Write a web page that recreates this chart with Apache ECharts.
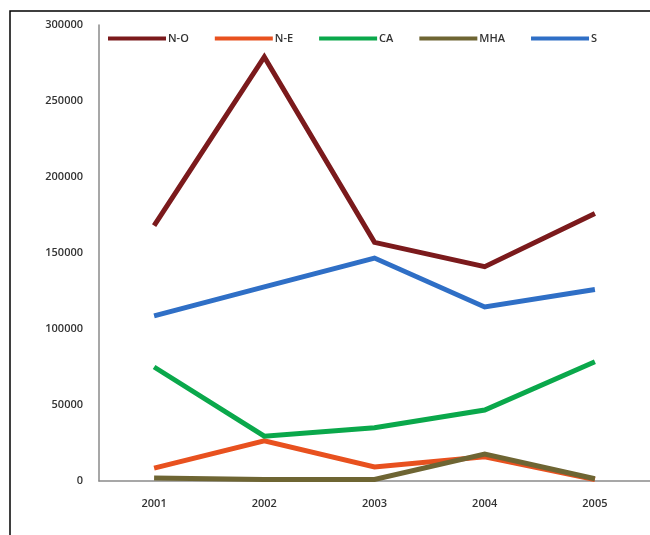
<!DOCTYPE html>
<html>
<head>
<meta charset="utf-8">
<script src="https://cdn.jsdelivr.net/npm/echarts@6/dist/echarts.min.js"></script>
<style>html,body{margin:0;padding:0;background:#fff;overflow:hidden;width:650px;height:535px;}#c{width:650px;height:535px;}</style>
</head>
<body>
<div id="c"></div>
<script>
const categories = ['2001', '2002', '2003', '2004', '2005'];
const seriesNames = ['N-O', 'N-E', 'CA', 'MHA', 'S'];
const valuesNO = [168000, 279000, 157000, 141000, 176000];
const valuesNE = [8500, 26500, 9200, 16000, 1000];
const valuesCA = [75000, 29500, 35000, 46700, 78500];
const valuesMHA = [2000, 1000, 1000, 17800, 1500];
const valuesS = [108600, 127700, 146700, 114500, 126000];
const colors = ['#7b1a1c', '#e8511f', '#0aa84b', '#6e6533', '#2f6fc6'];
const yTicks = [0, 50000, 100000, 150000, 200000, 250000, 300000];

const allValues = [valuesNO, valuesNE, valuesCA, valuesMHA, valuesS];
const chart = echarts.init(document.getElementById('c'), null, {renderer: 'canvas', width: 650, height: 535});
chart.setOption({
  animation: false,
  backgroundColor: '#fff',
  graphic: [{
    type: 'polyline', shape: {points: [[10, 540], [10, 11], [660, 11]]},
    style: {fill: 'none', stroke: '#000', lineWidth: 1.5}, silent: true
  }],
  legend: {
    left: 103, top: 28, itemWidth: 58, itemHeight: 4, itemGap: 26,
    textStyle: {fontFamily: 'Open Sans', fontSize: 11, fontWeight: 600, color: '#333', padding: [0, 0, 0, -3]},
    data: seriesNames.map(n => ({name: n, icon: 'rect'}))
  },
  grid: {left: 99, top: 25, width: 561, height: 456, containLabel: false, show: false},
  xAxis: {
    type: 'category', data: categories, boundaryGap: true,
    axisLine: {lineStyle: {color: '#8a8a8a', width: 1.5}},
    axisTick: {show: false},
    axisLabel: {color: '#333', fontFamily: 'Open Sans', fontSize: 11, fontWeight: 600, margin: 17}
  },
  yAxis: {
    type: 'value', min: yTicks[0], max: yTicks[yTicks.length - 1], interval: 50000,
    axisLine: {show: true, lineStyle: {color: '#8a8a8a', width: 1.5}},
    axisTick: {show: false},
    splitLine: {show: false},
    axisLabel: {color: '#333', fontFamily: 'Open Sans', fontSize: 11, fontWeight: 600, margin: 16,
      formatter: v => String(v)}
  },
  series: seriesNames.map((n, i) => ({
    name: n, type: 'line', data: allValues[i], symbol: 'none',
    color: colors[i],
    itemStyle: {color: colors[i]},
    lineStyle: {color: colors[i], width: 5, cap: 'butt', join: 'miter'}
  }))
});
</script>
</body>
</html>
